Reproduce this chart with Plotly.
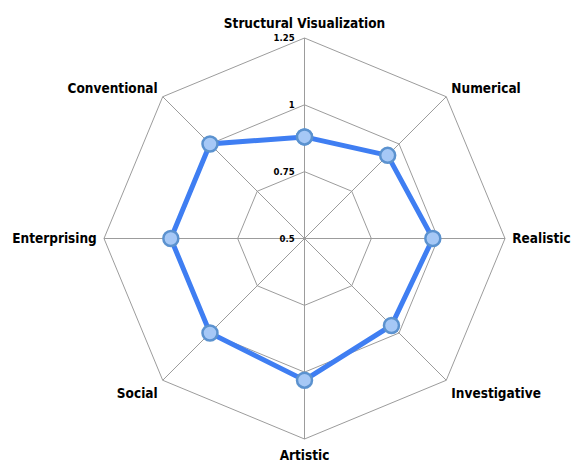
import plotly.graph_objects as go

categories = ["Structural Visualization", "Numerical", "Realistic", "Investigative",
              "Artistic", "Social", "Enterprising", "Conventional"]
values = [0.88, 0.94, 0.98, 0.96, 1.03, 1.00, 1.00, 1.00]
radial_ticks = [0.5, 0.75, 1, 1.25]
radial_ticktext = ["0.5", "0.75", "1", "1.25"]

FONT = "DejaVu Sans Condensed, Liberation Sans Narrow, sans-serif"
GRID = "#9c9c9c"

W, H = 576, 467
CX, CY, R = 304.5, 238.5, 200.5

fig = go.Figure()
fig.add_trace(go.Scatterpolar(
    r=values + values[:1],
    theta=categories + categories[:1],
    mode="lines+markers",
    line=dict(color="#3f7ef2", width=5),
    marker=dict(size=15, color="#a6c8f6", line=dict(color="#5b92cf", width=2.5)),
    showlegend=False,
))

fig.update_layout(
    width=W, height=H, autosize=False,
    margin=dict(l=0, r=0, t=0, b=0),
    paper_bgcolor="white", plot_bgcolor="white",
    font=dict(family=FONT, color="black"),
    polar=dict(
        domain=dict(x=[(CX - R) / W, (CX + R) / W],
                    y=[(H - CY - R) / H, (H - CY + R) / H]),
        bgcolor="white",
        gridshape="linear",
        radialaxis=dict(
            range=[0.5, 1.25],
            tickvals=radial_ticks,
            ticktext=radial_ticktext,
            angle=90,
            tickangle=90,
            side="counterclockwise",
            showline=False,
            ticks="outside",
            ticklen=6,
            tickcolor="rgba(0,0,0,0)",
            gridcolor=GRID,
            gridwidth=1,
            tickfont=dict(family=FONT, size=9.5, color="black", weight="bold"),
        ),
        angularaxis=dict(
            direction="clockwise",
            rotation=90,
            showline=True,
            linecolor=GRID,
            linewidth=1,
            gridcolor=GRID,
            gridwidth=1,
            ticks="outside",
            ticklen=4,
            tickcolor="rgba(0,0,0,0)",
            tickfont=dict(family=FONT, size=13.5, color="black", weight="bold"),
        ),
    ),
)

fig.write_html(
    "out.html",
    config={"displayModeBar": False},
    post_script="document.body.style.margin='0';document.body.style.overflow='hidden';",
)
